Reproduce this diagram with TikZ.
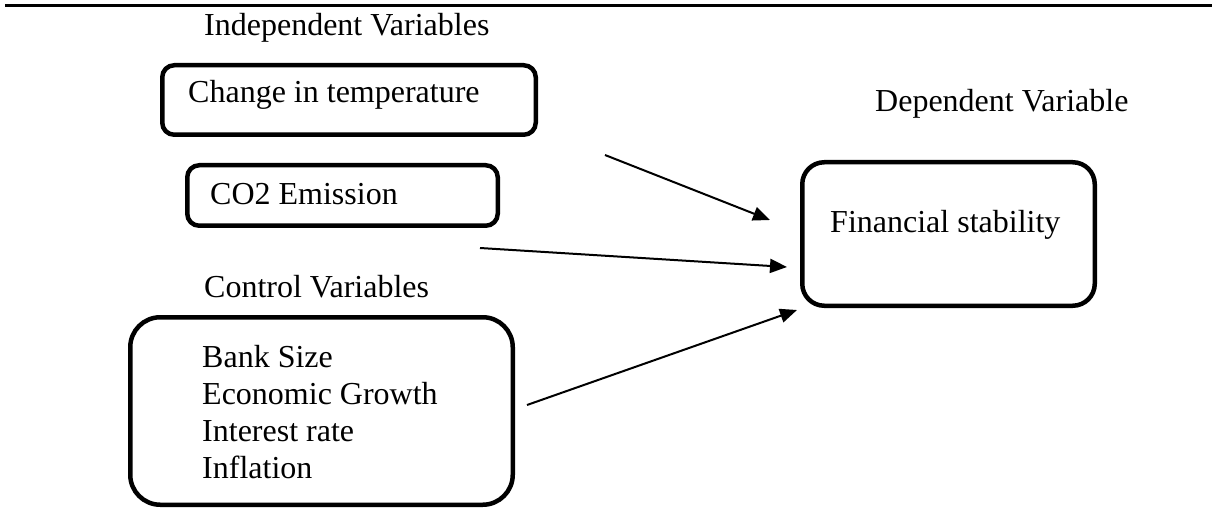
\documentclass[tikz,border=0pt]{standalone}
\usepackage{fontspec}
\setmainfont{Liberation Serif}
\usetikzlibrary{arrows.meta}
\begin{document}
\begin{tikzpicture}[x=1pt,y=-1pt,
  box/.style={draw, line width=4.5pt, rectangle, inner sep=0pt},
  lbl/.style={inner sep=0pt, anchor=base west, font=\fontsize{32}{37}\selectfont},
  arr/.style={line width=2pt, -{Triangle[length=17pt,width=14pt]}}]
\useasboundingbox (0,0) rectangle (1212,521);
% top rule
\coordinate (ruleL) at (5,5.5);
\coordinate (ruleR) at (1212,5.5);
\draw[line width=3pt] (ruleL) -- (ruleR);

% headings
\node[lbl] (indep) at (204,36) {Independent Variables};
\node[lbl] (dep) at (875,112) {Dependent Variable};
\node[lbl] (ctrl) at (204,297) {Control Variables};

% boxes
\node[box, rounded corners=12pt, minimum width=373.5pt, minimum height=69.5pt] (temp) at (349,100) {};
\node[lbl] (tempT) at (188,103) {Change in temperature};

\node[box, rounded corners=12pt, minimum width=310.5pt, minimum height=60.5pt] (co2) at (342.5,195.5) {};
\node[lbl] (co2T) at (210,205) {CO2 Emission};

\node[box, rounded corners=30pt, minimum width=382.5pt, minimum height=187.5pt] (ctrlbox) at (321.5,411) {};
\node[lbl, align=left] (ctrlT) at (202,478) {Bank Size\\Economic Growth\\Interest rate\\Inflation};

\node[box, rounded corners=22pt, minimum width=292.5pt, minimum height=143.5pt] (fin) at (948.5,234) {};
\node[lbl] (finT) at (830,233) {Financial stability};

% arrow ends
\coordinate (a1s) at (605,155);
\coordinate (a1e) at (770,220);
\coordinate (a2s) at (480,248);
\coordinate (a2e) at (787,267);
\coordinate (a3s) at (527,405);
\coordinate (a3e) at (797,310);
\draw[arr] (a1s) -- (a1e);
\draw[arr] (a2s) -- (a2e);
\draw[arr] (a3s) -- (a3e);
\end{tikzpicture}
\end{document}
